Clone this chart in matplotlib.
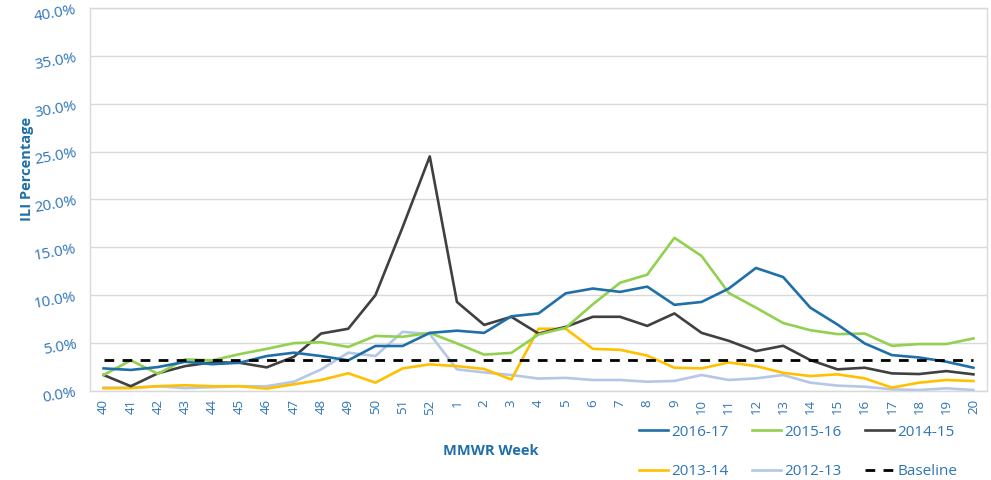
import matplotlib
matplotlib.use("Agg")
import matplotlib.pyplot as plt
from matplotlib.ticker import FuncFormatter

plt.rcParams['font.family'] = ['Open Sans', 'DejaVu Sans']

weeks = ['40', '41', '42', '43', '44', '45', '46', '47', '48', '49', '50', '51', '52',
         '1', '2', '3', '4', '5', '6', '7', '8', '9', '10', '11', '12', '13', '14',
         '15', '16', '17', '18', '19', '20']

s2016_17 = [2.36, 2.2, 2.5, 3.05, 2.8, 2.95, 3.65, 4.0, 3.65, 3.2, 4.7, 4.7, 6.07,
            6.3, 6.07, 7.8, 8.1, 10.2, 10.7, 10.35, 10.9, 9.0, 9.3, 10.7, 12.85, 11.9,
            8.7, 6.94, 4.97, 3.75, 3.5, 3.06, 2.43]
s2015_16 = [1.67, 3.2, 1.8, 3.3, 3.2, 3.85, 4.4, 5.0, 5.1, 4.6, 5.75, 5.66, 6.07,
            4.97, 3.8, 3.98, 5.9, 6.6, 9.06, 11.3, 12.15, 16.0, 14.1, 10.24, 8.7, 7.1,
            6.35, 5.94, 6.0, 4.72, 4.9, 4.9, 5.49]
s2014_15 = [1.67, 0.5, 1.85, 2.6, 3.0, 2.95, 2.47, 3.57, 6.0, 6.5, 10.0, 17.1, 24.5,
            9.3, 6.9, 7.75, 6.0, 6.7, 7.75, 7.75, 6.8, 8.1, 6.07, 5.24, 4.17, 4.72,
            3.23, 2.26, 2.43, 1.84, 1.77, 2.08, 1.74]
s2013_14 = [0.28, 0.3, 0.5, 0.6, 0.5, 0.5, 0.25, 0.7, 1.15, 1.85, 0.87, 2.36, 2.78,
            2.6, 2.3, 1.2, 6.5, 6.5, 4.4, 4.3, 3.7, 2.43, 2.36, 2.98, 2.6, 1.9,
            1.56, 1.74, 1.32, 0.35, 0.87, 1.15, 1.04]
s2012_13 = [0.35, 0.35, 0.5, 0.3, 0.4, 0.5, 0.5, 0.97, 2.25, 4.0, 3.65, 6.18, 5.95,
            2.26, 1.94, 1.67, 1.3, 1.37, 1.15, 1.15, 0.97, 1.05, 1.67, 1.15, 1.32, 1.67,
            0.87, 0.56, 0.45, 0.17, 0.1, 0.28, 0.1]
baseline = 3.2

series = [
    ('2016-17', s2016_17, '#1f6fa8'),
    ('2015-16', s2015_16, '#92d050'),
    ('2014-15', s2014_15, '#404040'),
    ('2013-14', s2013_14, '#ffc000'),
    ('2012-13', s2012_13, '#b4c7e7'),
]

tick_color = '#2e75b6'
label_color = '#1f6fa8'
grid_color = '#d9d9d9'

fig = plt.figure(figsize=(9.91, 4.80), dpi=100)
ax = fig.add_axes([90 / 991, 1 - 391 / 480, (987 - 90) / 991, (391 - 8) / 480])

x = list(range(len(weeks)))
handles = {}
for name, vals, col in reversed(series):
    h, = ax.plot(x, vals, color=col, lw=1.9, solid_joinstyle='round', label=name)
    handles[name] = h
hb, = ax.plot([x[0], x[-1]], [baseline, baseline], color='black', lw=2.0,
              linestyle=(0, (3.5, 3.0)), label='Baseline')
handles['Baseline'] = hb

ax.set_xlim(-0.5, len(weeks) - 0.5)
ax.set_ylim(0, 40)
ax.set_yticks([0, 5, 10, 15, 20, 25, 30, 35, 40])
ax.yaxis.set_major_formatter(FuncFormatter(lambda v, p: f'{v:.1f}%'))
ax.set_xticks(x)
ax.set_xticklabels(weeks, rotation=90)

ax.grid(axis='y', color=grid_color, lw=1.0)
ax.set_axisbelow(True)
for sp in ax.spines.values():
    sp.set_color(grid_color)
    sp.set_linewidth(1.0)

ax.tick_params(axis='both', length=0, colors=tick_color)
ax.tick_params(axis='y', labelsize=11, pad=10)
ax.tick_params(axis='x', labelsize=9.5, pad=6)
for lab in ax.get_yticklabels():
    lab.set_rotation(10)
    lab.set_rotation_mode('anchor')

fig.text(27 / 991, 1 - 169 / 480, 'ILI Percentage', rotation=90, ha='center', va='center',
         fontsize=10.5, fontweight='bold', color=label_color)
fig.text(491 / 991, 1 - 451 / 480, 'MMWR Week', ha='center', va='center',
         fontsize=10.5, fontweight='bold', color=label_color)

columns = [['2016-17', '2013-14'], ['2015-16', '2012-13'], ['2014-15', 'Baseline']]
col_x = [639, 752, 865]
for names, cx in zip(columns, col_x):
    leg = fig.legend([handles[k] for k in names], names, ncol=1,
                     loc='center left', bbox_to_anchor=(cx / 991, 1 - 452 / 480),
                     frameon=False, fontsize=11, handlelength=1.9, handletextpad=0.2,
                     labelspacing=1.6, borderpad=0, borderaxespad=0)
    for t in leg.get_texts():
        t.set_color(tick_color)

fig.savefig('out.png', dpi=100)
